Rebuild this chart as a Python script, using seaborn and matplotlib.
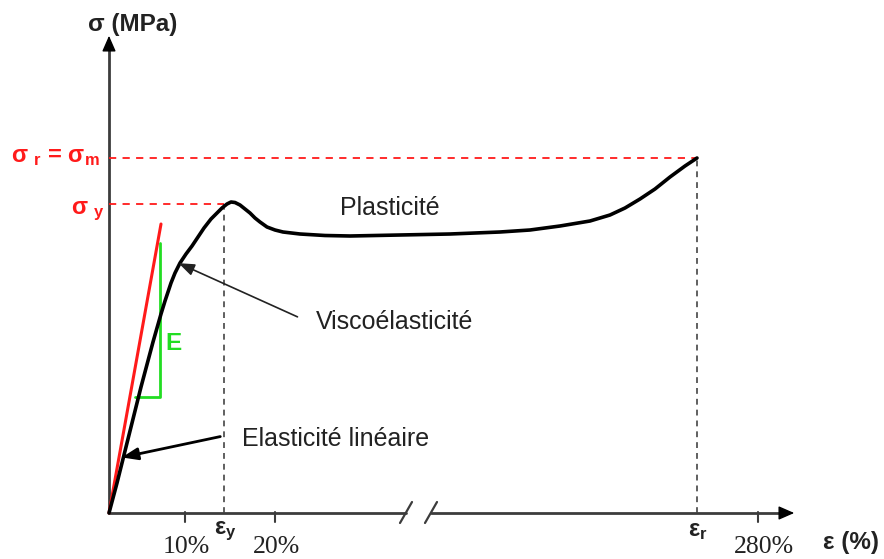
import numpy as np
import pandas as pd
import matplotlib
matplotlib.use("Agg")
import matplotlib.pyplot as plt
import seaborn as sns

# ── Data (schematic units, origin at the axes crossing) ───────────────────────
strain = [0, 4, 8, 12, 16, 20, 24, 28, 32, 36, 40, 44, 48, 52, 56, 59, 62, 66,
          71, 77, 83, 89, 95, 102, 108, 113, 118, 122, 126, 131, 136, 141, 146,
          151, 158, 166, 174, 191, 216, 241, 291, 341, 391, 421, 451, 481,
          501, 516, 531, 546, 561, 576, 588]
stress = [0, 15, 30, 46, 62, 78, 94, 110, 126, 141, 156, 171, 185, 199, 212,
          221, 230, 240, 250, 259, 267, 276, 285, 294, 300, 305, 309, 311,
          310.5, 308, 304, 300, 295, 291, 286, 283, 281, 279, 277.5, 277, 278,
          279, 281, 283, 287, 292, 298, 305, 314, 324, 336, 347, 355]

elastic_x = [0, 52]          # linear elastic tangent
elastic_y = [0, 289]
slope_x = [26, 51, 51]       # modulus triangle
slope_y = [116, 116, 270]

eps_y, eps_r = 115, 588
sig_y, sig_m = 309, 355

tick_pos = [76, 166, 649]
tick_labels = ["10%", "20%", "280%"]
break_pos = [297, 322]
x_end, y_end = 688, 480

sns.set_theme(style="white")
plt.rcParams["font.family"] = ["Liberation Sans", "DejaVu Sans"]
plt.rcParams.update({
    "mathtext.fontset": "custom",
    "mathtext.rm": "Liberation Sans",
    "mathtext.it": "Liberation Sans",
    "mathtext.bf": "Liberation Sans:bold",
    "mathtext.default": "bf",
})

AXC = "#3c3c3c"
RED = "#ff1a1a"
GREEN = "#22dd22"
TXT = "#222222"

fig = plt.figure(figsize=(8.84, 5.59), dpi=100)
ax = fig.add_axes([0, 0, 1, 1])
ax.set_xlim(-109, 775)
ax.set_ylim(-46, 513)
ax.axis("off")

# axes with arrows and the break
ax.plot([0, 0], [0, y_end - 10], color=AXC, lw=2, solid_capstyle="butt")
ax.annotate("", xy=(0, y_end), xytext=(0, y_end - 12),
            arrowprops=dict(arrowstyle="-|>,head_width=0.35,head_length=0.8",
                            color="black", lw=1))
ax.plot([0, break_pos[0]], [0, 0], color=AXC, lw=2)
ax.plot([break_pos[1], x_end - 10], [0, 0], color=AXC, lw=2)
ax.annotate("", xy=(x_end, 0), xytext=(x_end - 12, 0),
            arrowprops=dict(arrowstyle="-|>,head_width=0.35,head_length=0.8",
                            color="black", lw=1))
for b in break_pos:
    ax.plot([b - 6, b + 6], [-10, 11], color=AXC, lw=1.6)
for t, lab in zip(tick_pos, tick_labels):
    ax.plot([t, t], [1, -9], color=AXC, lw=1.5)
    ax.text(t + (6 if lab == "280%" else 1), -34, lab, ha="center", va="center",
            fontsize=18.5, family="Liberation Serif", color=TXT)

# reference lines
ax.plot([0, eps_r], [sig_m, sig_m], color=RED, lw=1.3, ls=(0, (4, 3.5)))
ax.plot([0, eps_y], [sig_y, sig_y], color=RED, lw=1.3, ls=(0, (4, 3.5)))
ax.plot([eps_y, eps_y], [0, sig_y], color="#444444", lw=1.2, ls=(0, (3.5, 3)))
ax.plot([eps_r, eps_r], [0, sig_m], color="#444444", lw=1.2, ls=(0, (3.5, 3)))

# curve, tangent and modulus triangle
sns.lineplot(x=elastic_x, y=elastic_y, color=RED, lw=2.2, ax=ax,
             sort=False, estimator=None)
sns.lineplot(x=slope_x, y=slope_y, color=GREEN, lw=2, ax=ax,
             sort=False, estimator=None)
sns.lineplot(x=strain, y=stress, color="black", lw=2.6, ax=ax,
             sort=False, estimator=None)

# labels
ax.text(24, 489, "σ (MPa)", ha="center", va="center", fontsize=17.5,
        fontweight="bold", color=TXT)
ax.text(742, -30, "ε (%)", ha="center", va="center", fontsize=17.5,
        fontweight="bold", color=TXT)
ax.text(eps_y + 1, -18, "ε$_y$", ha="center", va="center", fontsize=17,
        fontweight="bold", color=TXT)
ax.text(eps_r + 1, -18, "ε$_r$", ha="center", va="center", fontsize=17,
        fontweight="bold", color=TXT)
ax.text(-9, sig_m + 2, "σ $_r$ = σ$_m$", ha="right", va="center", fontsize=17,
        fontweight="bold", color=RED)
ax.text(-4, sig_y - 7, "σ $_y$", ha="right", va="center", fontsize=17,
        fontweight="bold", color=RED)
ax.text(56, 170, "E", ha="left", va="center", fontsize=17.5,
        fontweight="bold", color=GREEN)

ax.text(231, 305, "Plasticité", ha="left", va="center", fontsize=18,
        color=TXT)
ax.text(207, 191, "Viscoélasticité", ha="left", va="center", fontsize=18,
        color=TXT)
ax.text(133, 74, "Elasticité linéaire", ha="left", va="center", fontsize=18,
        color=TXT)

ax.annotate("", xy=(67, 251), xytext=(191, 195),
            arrowprops=dict(arrowstyle="-|>,head_width=0.3,head_length=0.8",
                            color=TXT, lw=1.2))
ax.annotate("", xy=(10, 55), xytext=(114, 77),
            arrowprops=dict(arrowstyle="-|>,head_width=0.3,head_length=0.8",
                            color="black", lw=2))

fig.savefig("out.png", dpi=100)
